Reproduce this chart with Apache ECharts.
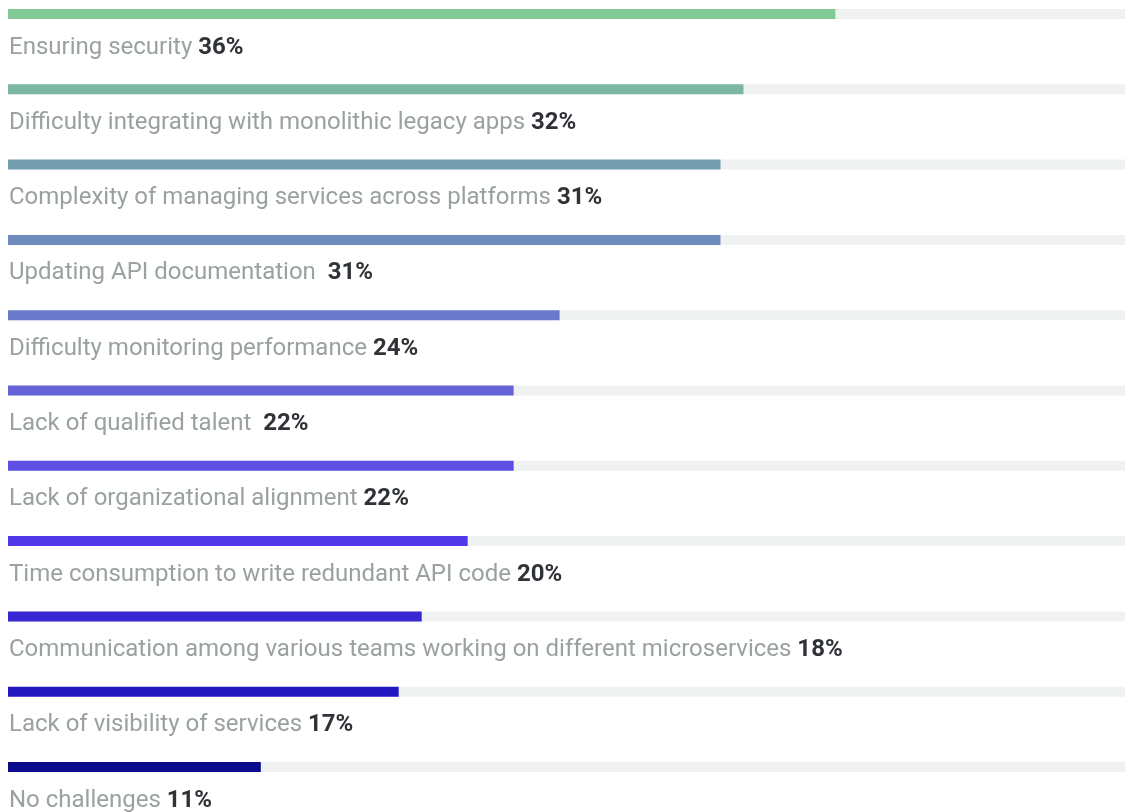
<!DOCTYPE html>
<html>
<head>
<meta charset="utf-8">
<script src="https://cdn.jsdelivr.net/npm/echarts@6/dist/echarts.min.js"></script>
<style>
  html, body { margin: 0; padding: 0; background: #ffffff; }
  #chart { width: 1125px; height: 812px; }
</style>
</head>
<body>
<div id="chart"></div>
<script>
// Reported challenges and share of respondents (%)
const challenges = [
  'Ensuring security',
  'Difficulty integrating with monolithic legacy apps',
  'Complexity of managing services across platforms',
  'Updating API documentation ',
  'Difficulty monitoring performance',
  'Lack of qualified talent ',
  'Lack of organizational alignment',
  'Time consumption to write redundant API code',
  'Communication among various teams working on different microservices',
  'Lack of visibility of services',
  'No challenges'
];
const shares = [36, 32, 31, 31, 24, 22, 22, 20, 18, 17, 11];
const barColors = [
  '#83c995', '#7cb7a5', '#739dae', '#708cbf', '#6b7acb', '#6663d6',
  '#5f4ee3', '#5038e8', '#3a27d4', '#2318c0', '#0b0b8e'
];

const chart = echarts.init(document.getElementById('chart'));
chart.setOption({
  animation: false,
  // rows sit on the tick positions, first row at the top edge of the grid
  grid: { left: 8, right: 0, top: 14, height: 753, containLabel: false },
  xAxis: { type: 'value', min: 0, max: 48.6, show: false },
  yAxis: {
    type: 'category', data: challenges, inverse: true, boundaryGap: false, show: false
  },
  series: [{
    type: 'bar',
    barWidth: 10,
    data: shares.map((v, i) => ({ value: v, itemStyle: { color: barColors[i] } })),
    showBackground: true,
    backgroundStyle: { color: '#f0f1f1' },
    label: {
      show: true,
      position: [1, 38.5],
      align: 'left',
      verticalAlign: 'middle',
      formatter: p => '{n|' + p.name + ' }{v|' + p.value + '%}',
      rich: {
        n: { fontFamily: 'Roboto', fontSize: 24, color: '#9aa1a1' },
        v: { fontFamily: 'Roboto', fontSize: 24, fontWeight: 'bold', color: '#2f3237' }
      }
    }
  }]
});
</script>
</body>
</html>
